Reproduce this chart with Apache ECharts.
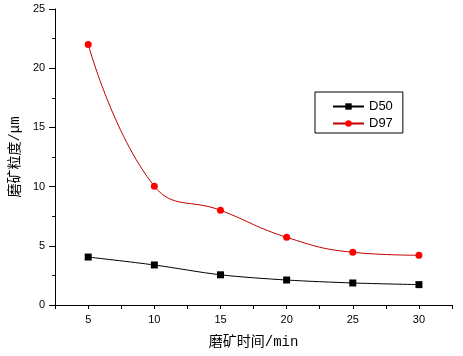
<!DOCTYPE html>
<html><head><meta charset="utf-8">
<script src="https://cdn.jsdelivr.net/npm/echarts@6/dist/echarts.min.js"></script>
<style>html,body{margin:0;padding:0;background:#fff}#c{width:463px;height:356px}</style>
</head><body><div id="c"></div>
<script>
const times = [5, 10, 15, 20, 25, 30];
const d50 = [4.05, 3.38, 2.55, 2.11, 1.86, 1.72];
const d97 = [22.0, 10.03, 8.0, 5.72, 4.45, 4.2];
const seriesNames = ['D50', 'D97'];
const xName = '磨矿时间/min';
const yName = '磨矿粒度/μm';

const chart = echarts.init(document.getElementById('c'));
const tickFont = {color:'#000', fontSize:11, fontFamily:'Liberation Sans, Arial, sans-serif'};
const nameFont = {color:'#000', fontSize:14, fontFamily:'Liberation Mono, Noto Sans CJK SC, monospace'};
chart.setOption({
  animation:false,
  backgroundColor:'#fff',
  grid:{left:54, top:9, right:11, bottom:51, containLabel:false},
  legend:{
    orient:'vertical', left:315, top:92,
    padding:[8,10,3,17], itemGap:4, itemWidth:31, itemHeight:8,
    borderColor:'#000', borderWidth:1, borderRadius:0,
    textStyle:{color:'#000', fontSize:13, fontFamily:'Liberation Sans, Arial, sans-serif'},
    data:seriesNames
  },
  xAxis:{
    type:'value', min:2.5, max:32.5, interval:2.5,
    name:xName, nameLocation:'middle', nameGap:30, nameTextStyle:nameFont,
    axisLine:{lineStyle:{color:'#000', width:1}},
    axisTick:{show:true, length:4, lineStyle:{color:'#000'}},
    axisLabel:Object.assign({margin:9, formatter:v => (Math.abs(v % 5) < 1e-9 ? String(v) : '')}, tickFont),
    splitLine:{show:false}
  },
  yAxis:{
    type:'value', min:0, max:25, interval:5,
    name:yName, nameLocation:'middle', nameGap:29, nameRotate:90, nameTextStyle:nameFont,
    axisLine:{show:true, lineStyle:{color:'#000', width:1}},
    axisTick:{show:true, length:6, lineStyle:{color:'#000'}},
    minorTick:{show:true, splitNumber:2, length:3, lineStyle:{color:'#000'}},
    axisLabel:Object.assign({margin:10}, tickFont),
    splitLine:{show:false}
  },
  series:[
    {name:seriesNames[0], type:'line', data:times.map((t,i)=>[t,d50[i]]),
     smooth:0.3, symbol:'rect', symbolSize:7,
     itemStyle:{color:'#000'}, lineStyle:{color:'#000', width:1}},
    {name:seriesNames[1], type:'line', data:times.map((t,i)=>[t,d97[i]]),
     smooth:0.45, symbol:'circle', symbolSize:7,
     itemStyle:{color:'#ff0000'}, lineStyle:{color:'#c00000', width:1}}
  ]
});
</script></body></html>
